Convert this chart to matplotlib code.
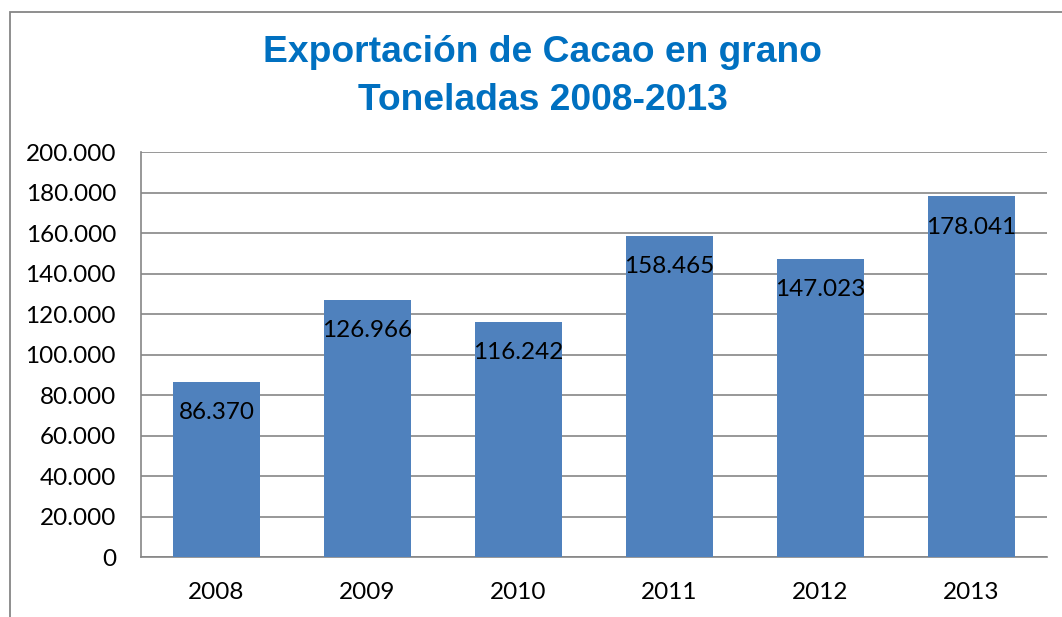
import matplotlib.pyplot as plt
from matplotlib.patches import Rectangle

# Data
years = ['2008', '2009', '2010', '2011', '2012', '2013']
toneladas = [86370, 126966, 116242, 158465, 147023, 178041]
value_labels = ['86.370', '126.966', '116.242', '158.465', '147.023', '178.041']
y_ticks = [0, 20000, 40000, 60000, 80000, 100000, 120000, 140000, 160000, 180000, 200000]
y_tick_labels = ['0', '20.000', '40.000', '60.000', '80.000', '100.000',
                 '120.000', '140.000', '160.000', '180.000', '200.000']

plt.rcParams['font.family'] = ['Lato', 'DejaVu Sans']

fig = plt.figure(figsize=(10.62, 6.17), dpi=100)
ax = fig.add_axes([0.1328, 0.0972, 0.8531, 0.6564])

# outer chart frame (cut on the right and bottom like the original)
fig.patches.append(Rectangle((10 / 1062, -0.1), 1.2, 1 - 12 / 617 + 0.1,
                             transform=fig.transFigure, fill=False,
                             edgecolor='#868686', linewidth=1.3))

x = range(len(years))
bars = ax.bar(x, toneladas, width=0.57, color='#4F81BD', zorder=3)

for i, v in enumerate(toneladas):
    ax.annotate(value_labels[i], (i, v), xytext=(0, -22), textcoords='offset points',
                ha='center', va='center', fontsize=17.5, color='black', zorder=4)

ax.set_xlim(-0.5, len(years) - 0.5)
ax.set_ylim(0, 200000)
ax.set_yticks(y_ticks)
ax.set_yticklabels(y_tick_labels, fontsize=17.5)
ax.set_xticks(list(x))
ax.set_xticklabels(years, fontsize=17.5)
ax.tick_params(axis='y', length=0, pad=18)
ax.tick_params(axis='x', length=0, pad=18)

ax.grid(axis='y', color='#868686', linewidth=1.2, zorder=0)
for side in ['top', 'right']:
    ax.spines[side].set_visible(False)
for side in ['left', 'bottom']:
    ax.spines[side].set_color('#868686')
    ax.spines[side].set_linewidth(1.2)

fig.text(0.511, 1 - 53 / 617, 'Exportación de Cacao en grano', ha='center', va='center',
         fontsize=26.8, fontweight='bold', color='#0070C0', family='Liberation Sans')
fig.text(0.511, 1 - 100 / 617, 'Toneladas 2008-2013', ha='center', va='center',
         fontsize=26.8, fontweight='bold', color='#0070C0', family='Liberation Sans')

fig.savefig('out.png', dpi=100)
